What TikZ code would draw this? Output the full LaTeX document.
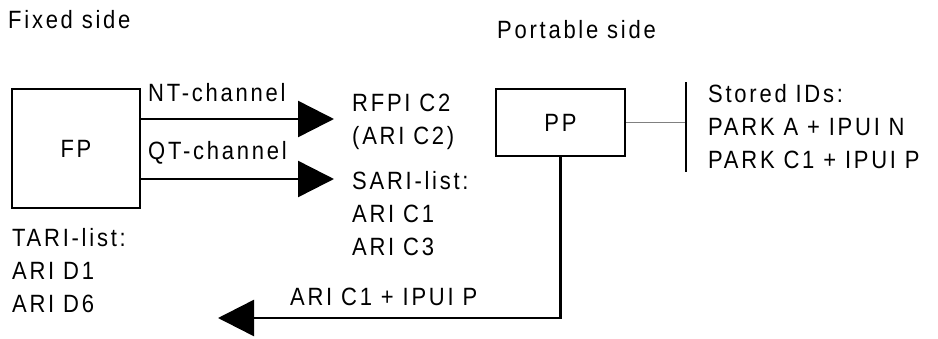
\documentclass[tikz,border=0pt]{standalone}
\usepackage{fontspec}
\setmainfont{Liberation Sans}[LetterSpace=11,FakeStretch=0.88]
\usetikzlibrary{arrows.meta}
\begin{document}
\begin{tikzpicture}[x=1pt,y=-1pt,
  txt/.style={inner sep=0pt,anchor=west,align=left,font=\fontsize{25}{33}\selectfont},
  boxn/.style={draw,line width=2.2pt,inner sep=0pt,font=\fontsize{25}{33}\selectfont},
  conn/.style={line width=2.5pt,-{Triangle[length=36pt,width=36pt]}},
  link/.style={line width=1.4pt,gray}]
\useasboundingbox (0,0) rectangle (938,338);
\node[txt] (fixed) at (8,20) {Fixed side};
\node[txt] (portable) at (497,30) {Portable side};
\node[boxn,minimum width=128pt,minimum height=119pt] (FP) at (76,148.5) {FP};
\node[boxn,minimum width=129pt,minimum height=67pt] (PP) at (560.5,122.5) {PP};
\coordinate (ntend) at (334,119);
\coordinate (qtend) at (334,179);
\coordinate (ariend) at (218,318);
\coordinate (bartop) at (686,82);
\coordinate (barbot) at (686,172);
\draw[conn] (FP.east |- ntend) -- (ntend);
\draw[conn] (FP.east |- qtend) -- (qtend);
\node[txt] (ntl) at (148,93) {NT-channel};
\node[txt] (qtl) at (148,153) {QT-channel};
\node[txt] (rfpi) at (352,121.5) {RFPI C2\\(ARI C2)};
\node[txt] (sari) at (352,213.5) {SARI-list:\\ARI C1\\ARI C3};
\node[txt] (tari) at (12,270.5) {TARI-list:\\ARI D1\\ARI D6};
\draw[link] (PP.east) -- (PP.east -| bartop);
\draw[line width=1.4pt] (bartop) -- (barbot);
\node[txt] (stored) at (708,127) {Stored IDs:\\PARK A + IPUI N\\PARK C1 + IPUI P};
\draw[conn] (PP.south) |- (ariend);
\node[txt] (aril) at (290,297) {ARI C1 + IPUI P};
\end{tikzpicture}
\end{document}
